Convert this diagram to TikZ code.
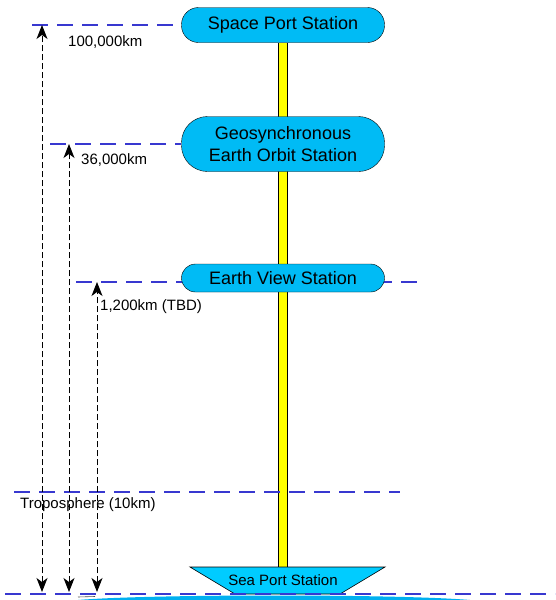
\documentclass[tikz,border=0pt]{standalone}
\usepackage{fontspec}
\setmainfont{Liberation Sans}
\usepackage{tikz}
\usetikzlibrary{arrows.meta,positioning,shapes.geometric,backgrounds}
\definecolor{Station}{HTML}{00BBF5}
\definecolor{SeaPort}{HTML}{00CCFF}
\definecolor{Ocean}{HTML}{00B0F0}
\definecolor{Level}{HTML}{3838D0}
\definecolor{Tether}{HTML}{FFFF00}

\begin{document}
\begin{tikzpicture}[x=1pt,y=-1pt,
  station/.style={rounded corners=17pt,draw=black,fill=Station,minimum width=203pt,inner sep=0pt,align=center,font=\fontsize{18}{21}\selectfont},
  level/.style={draw=Level,line width=2pt,dash pattern=on 16pt off 9pt},
  dimarrow/.style={{Stealth[length=14pt,width=11pt,inset=4pt]}-{Stealth[length=14pt,width=11pt,inset=4pt]},draw=black,line width=0.9pt,dash pattern=on 6pt off 3pt},
  tether/.style={draw=black,line width=0.8pt,double=Tether,double distance=8pt},
  lbl/.style={anchor=west,inner sep=0pt,font=\fontsize{15}{17}\selectfont}
]
\useasboundingbox (0,0) rectangle (555,600);
% stations on the tether
\node[station,minimum height=35pt] (spp) at (283,25) {Space Port Station};
\node[station,minimum height=55pt,rounded corners=26pt] (geo) at (283,144) {Geosynchronous\\[1pt]Earth Orbit Station};
\node[station,minimum height=28pt,rounded corners=14pt] (ev) at (283,278) {Earth View Station};
% sea port hull
\coordinate (sea) at (283,567);
\fill[SeaPort,draw=black,line width=0.6pt] (190,567) -- (385,567) -- (340,594) -- (235,594) -- cycle;
\node[inner sep=0pt,font=\fontsize{15}{17}\selectfont] (seatxt) at (283,580) {Sea Port Station};
% ocean
\fill[Ocean] (78,600) .. controls (150,594) and (400,594) .. (470,600) -- cycle;
\draw[black!70,line width=0.6pt] (78,597) -- (95,596.5);
\begin{scope}[on background layer]
\draw[tether] (spp.south) -- (sea);
\end{scope}
% altitude levels
\coordinate (l1) at (32,25);
\coordinate (l2) at (50,144);
\coordinate (l3) at (76,282);
\coordinate (l3e) at (420,282);
\coordinate (t1) at (14,492);
\coordinate (t2) at (400,492);
\coordinate (g1) at (5,594);
\coordinate (g2) at (555,594);
\draw[level] (l1) -- (spp.west);
\draw[level] (l2) -- (geo.west);
\begin{scope}[on background layer]
\draw[level] (l3) -- (l3e);
\end{scope}
\draw[level] (t1) -- (t2);
\draw[level] (g1) -- (g2);
% heights
\coordinate (a1) at (42,25);
\coordinate (b1) at (42,592);
\coordinate (a2) at (69,144);
\coordinate (b2) at (69,592);
\coordinate (a3) at (97,282);
\coordinate (b3) at (97,592);
\draw[dimarrow] (b1) -- (a1);
\draw[dimarrow] (b2) -- (a2);
\draw[dimarrow] (b3) -- (a3);
\node[lbl] (h1) at (68,42) {100,000km};
\node[lbl] (h2) at (81,160) {36,000km};
\node[lbl] (h3) at (100,307) {1,200km (TBD)};
\node[lbl] (tro) at (20,505) {Troposphere (10km)};
\end{tikzpicture}
\end{document}
